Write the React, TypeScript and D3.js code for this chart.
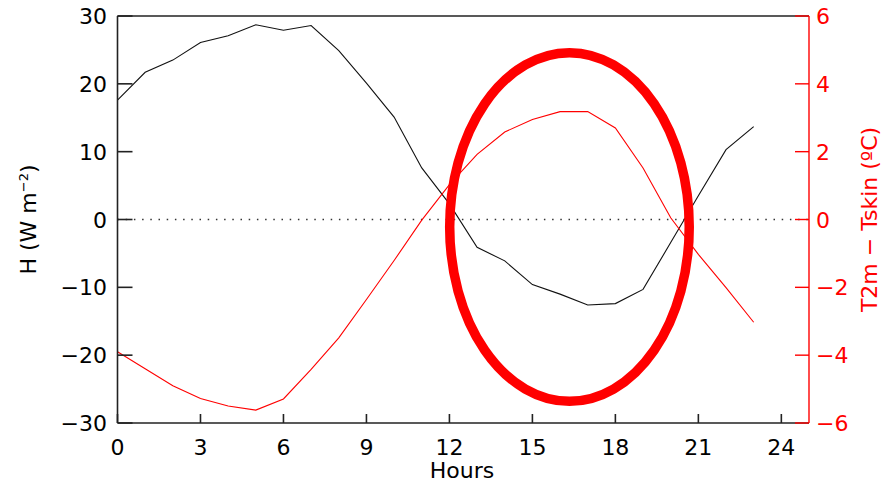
import React from "react";
import * as d3 from "d3";

// Hour of day (local time)
const hours: number[] = [0, 1, 2, 3, 4, 5, 6, 7, 8, 9, 10, 11, 12, 13, 14, 15, 16, 17, 18, 19, 20, 21, 22, 23];

// Sensible heat flux H (W m-2), left axis
const sensibleHeat: number[] = [
  17.6, 21.7, 23.5, 26.1, 27.1, 28.7, 27.9, 28.6, 24.9, 20.1, 15.1, 7.6,
  2.3, -4.1, -6.1, -9.6, -11.0, -12.6, -12.4, -10.3, -3.4, 3.5, 10.3, 13.7,
];

// Air minus skin temperature T2m - Tskin (°C), right axis
const tempDiff: number[] = [
  -3.9, -4.4, -4.9, -5.28, -5.5, -5.62, -5.29, -4.42, -3.49, -2.36, -1.21, -0.02,
  1.03, 1.92, 2.58, 2.95, 3.18, 3.18, 2.7, 1.52, 0.05, -1.03, -2.01, -3.03,
];

const xTicks: number[] = [0, 3, 6, 9, 12, 15, 18, 21, 24];
const leftTicks: number[] = [-30, -20, -10, 0, 10, 20, 30];
const rightTicks: number[] = [-6, -4, -2, 0, 2, 4, 6];

// Highlight ellipse, in data units (hours, W m-2)
const highlightCenter: [number, number] = [16.34, -1.1];
const highlightRadii: [number, number] = [4.33, 25.7];

const W = 882;
const H = 483;
const left = 117.5;
const right = 809;
const top = 16;
const bottom = 423;

const FONT = "DejaVu Sans";
const RED = "#ff0000";
const AXIS = "#222";

const fmt = (v: number) => (v < 0 ? "\u2212" + Math.abs(v) : String(v));

export default function App() {
  const x = d3.scaleLinear().domain([0, 25]).range([left, right]);
  const yL = d3.scaleLinear().domain([-30, 30]).range([bottom, top]);
  const yR = d3.scaleLinear().domain([-6, 6]).range([bottom, top]);

  const hLine = d3
    .line<number>()
    .x((_, i) => x(hours[i]))
    .y((d) => yL(d))(sensibleHeat) as string;

  const tLine = d3
    .line<number>()
    .x((_, i) => x(hours[i]))
    .y((d) => yR(d))(tempDiff) as string;

  const ex = x(highlightCenter[0]);
  const ey = yL(highlightCenter[1]);
  const erx = x(highlightCenter[0] + highlightRadii[0]) - ex;
  const ery = ey - yL(highlightCenter[1] + highlightRadii[1]);

  return (
    <svg
      width={W}
      height={H}
      style={{ position: "absolute", left: 0, top: 0, background: "#fff", display: "block" }}
      fontFamily={FONT}
    >
      <rect x={0} y={0} width={W} height={H} fill="#fff" />

      {/* zero reference line */}
      <line
        x1={x(0)}
        x2={x(25)}
        y1={yL(0)}
        y2={yL(0)}
        stroke="#333"
        strokeWidth={1.3}
        strokeDasharray="1.5 6.7"
      />

      {/* data series */}
      <path d={hLine} fill="none" stroke="#111" strokeWidth={1.1} />
      <path d={tLine} fill="none" stroke={RED} strokeWidth={1.1} />

      {/* frame: left, bottom, top in black */}
      <line x1={left} x2={left} y1={top} y2={bottom} stroke={AXIS} strokeWidth={1.6} />
      <line x1={left} x2={right} y1={bottom} y2={bottom} stroke={AXIS} strokeWidth={1.6} />
      <line x1={left} x2={right} y1={top} y2={top} stroke={AXIS} strokeWidth={1.6} />
      {/* right axis in red */}
      <line x1={right} x2={right} y1={top} y2={bottom} stroke={RED} strokeWidth={1.4} />

      {/* x ticks and labels */}
      {xTicks.map((t) => (
        <g key={"x" + t}>
          <line x1={x(t)} x2={x(t)} y1={bottom} y2={bottom - 9} stroke={AXIS} strokeWidth={1.6} />
          <text x={x(t)} y={455} fontSize={22} textAnchor="middle" fill="#000">
            {t}
          </text>
        </g>
      ))}

      {/* left ticks and labels */}
      {leftTicks.map((t) => (
        <g key={"l" + t}>
          <line x1={left} x2={left + 15} y1={yL(t)} y2={yL(t)} stroke={AXIS} strokeWidth={1.6} />
          <text x={107} y={yL(t) + 8} fontSize={22} textAnchor="end" fill="#000">
            {fmt(t)}
          </text>
        </g>
      ))}

      {/* right ticks and labels */}
      {rightTicks.map((t) => (
        <g key={"r" + t}>
          <line x1={right - 14} x2={right} y1={yR(t)} y2={yR(t)} stroke={RED} strokeWidth={1.4} />
          <text x={816} y={yR(t) + 8} fontSize={22} textAnchor="start" fill={RED}>
            {fmt(t)}
          </text>
        </g>
      ))}

      {/* axis titles */}
      <text x={462} y={478} fontSize={22} textAnchor="middle" fill="#000">
        Hours
      </text>
      <text
        transform={`translate(36, ${yL(0)}) rotate(-90)`}
        fontSize={22}
        textAnchor="middle"
        fill="#000"
      >
        H (W m<tspan dy={-8} fontSize={13}>−2</tspan>
        <tspan dy={8}>)</tspan>
      </text>
      <text
        transform={`translate(877, ${yR(0)}) rotate(-90)`}
        fontSize={22}
        textAnchor="middle"
        fill={RED}
      >
        T2m − Tskin (ºC)
      </text>

      {/* highlight ellipse */}
      <ellipse cx={ex} cy={ey} rx={erx} ry={ery} fill="none" stroke={RED} strokeWidth={9.5} />
    </svg>
  );
}
